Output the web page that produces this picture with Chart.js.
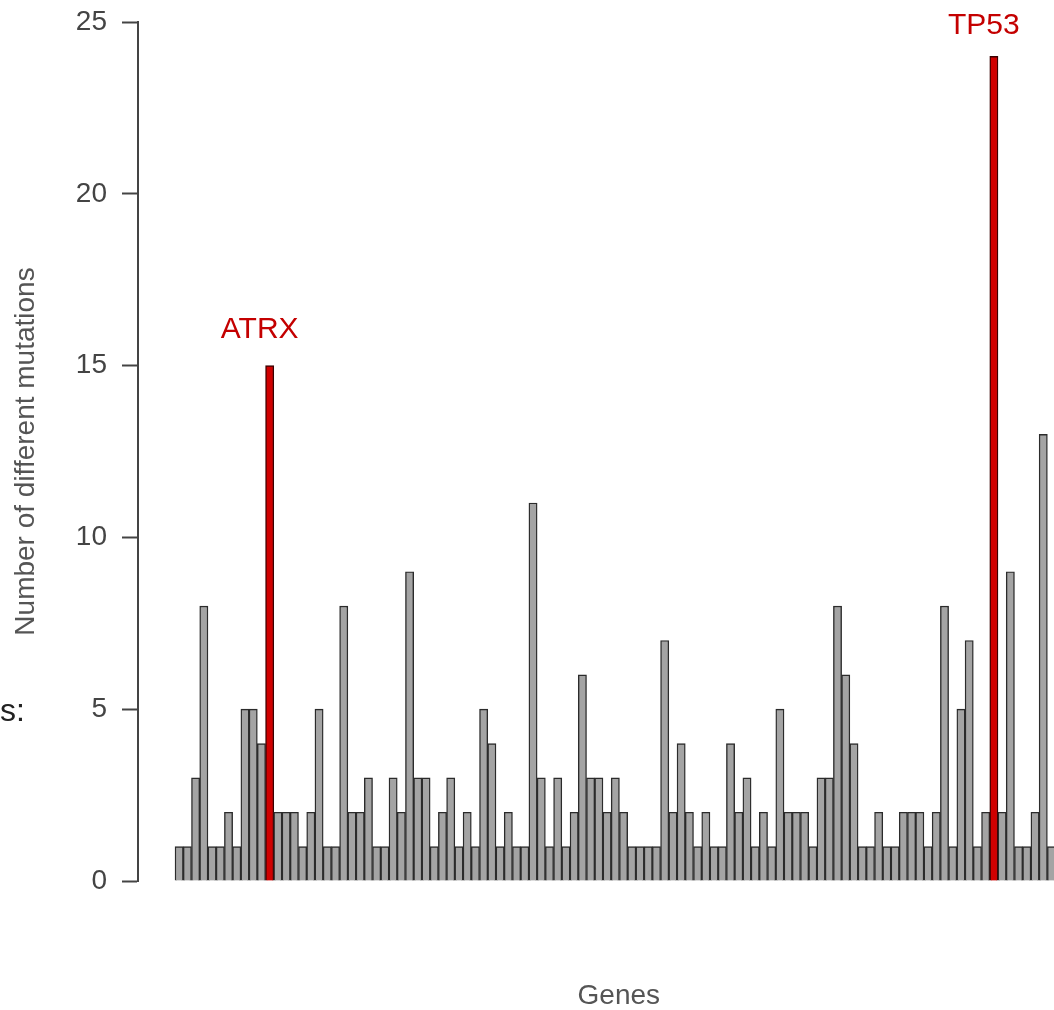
<!DOCTYPE html>
<html lang="en">
<head>
    <meta charset="UTF-8">
    <title>Number of different mutations per gene</title>
    <script src="https://cdn.jsdelivr.net/npm/chart.js"></script>
    <style>
        body { margin: 0; background: #fff; overflow: hidden; font-family: 'Liberation Sans', Arial, sans-serif; }
        #wrap { position: relative; width: 1060px; height: 1010px; }
        #side { position: absolute; left: 0; top: 692px; font-size: 32px; color: #222; }
    </style>
</head>
<body>
    <div id="wrap">
        <canvas id="mutations"></canvas>
        <div id="side">s:</div>
    </div>

    <script>
        // number of different mutations for each gene, left to right
        const counts = [
            1, 1, 3, 8, 1, 1, 2, 1, 5, 5, 4, 15, 2, 2, 2, 1, 2, 5, 1, 1,
            8, 2, 2, 3, 1, 1, 3, 2, 9, 3, 3, 1, 2, 3, 1, 2, 1, 5, 4, 1,
            2, 1, 1, 11, 3, 1, 3, 1, 2, 6, 3, 3, 2, 3, 2, 1, 1, 1, 1, 7,
            2, 4, 2, 1, 2, 1, 1, 4, 2, 3, 1, 2, 1, 5, 2, 2, 2, 1, 3, 3,
            8, 6, 4, 1, 1, 2, 1, 1, 2, 2, 2, 1, 2, 8, 1, 5, 7, 1, 2, 24,
            2, 9, 1, 1, 2, 13, 1
        ];
        const highlightNames = ['ATRX', 'TP53'];
        const highlightIndex = [11, 99];
        const yTicks = [0, 5, 10, 15, 20, 25];

        const font = "'Liberation Sans', Arial, sans-serif";

        const fills = counts.map((v, i) => highlightIndex.includes(i) ? '#d00000' : '#a4a4a4');
        const borders = counts.map((v, i) => highlightIndex.includes(i) ? '#3a0000' : '#2b2b2b');

        // red gene names above the highlighted bars, plus the x axis title
        // (the original plot runs on past the right edge, so "Genes" sits right of centre)
        const textPlugin = {
            id: 'geneNames',
            afterDatasetsDraw(chart) {
                const ctx = chart.ctx;
                const x = chart.scales.x, y = chart.scales.y;
                const area = chart.chartArea;
                ctx.save();
                ctx.font = '30px ' + font;
                ctx.fillStyle = '#c40000';
                ctx.textAlign = 'center';
                ctx.textBaseline = 'alphabetic';
                highlightNames.forEach((name, k) => {
                    const i = highlightIndex[k];
                    const top = y.getPixelForValue(counts[i]);
                    ctx.fillText(name, x.getPixelForValue(i) - 10, Math.max(top - 28, 34));
                });
                ctx.font = '28px ' + font;
                ctx.fillStyle = '#555';
                ctx.textBaseline = 'middle';
                ctx.fillText('Genes', (area.left + area.right) / 2 + 22, 996);
                ctx.restore();
            }
        };

        new Chart(document.getElementById('mutations'), {
            type: 'bar',
            data: {
                datasets: [{
                    data: counts.map((v, i) => ({ x: i, y: v })),
                    backgroundColor: fills,
                    borderColor: borders,
                    borderWidth: 1.4,
                    categoryPercentage: 1,
                    barPercentage: 1
                }]
            },
            options: {
                responsive: true,
                maintainAspectRatio: false,
                animation: false,
                layout: { padding: { top: 22, right: 4.4, bottom: 0, left: 0 } },
                plugins: { legend: { display: false }, tooltip: { enabled: false } },
                scales: {
                    x: {
                        type: 'linear',
                        offset: false,
                        bounds: 'data',
                        min: -5,
                        max: counts.length - 0.5,
                        grid: { display: false, offset: false },
                        border: { display: false },
                        ticks: { display: false },
                        afterFit(scale) { scale.height = 129; }
                    },
                    y: {
                        min: 0,
                        max: 25,
                        afterBuildTicks(scale) { scale.ticks = yTicks.map(v => ({ value: v })); },
                        grid: {
                            drawOnChartArea: false,
                            drawTicks: true,
                            tickLength: 16,
                            tickWidth: 2,
                            tickColor: '#444'
                        },
                        border: { display: true, color: '#444', width: 2 },
                        ticks: {
                            color: '#444',
                            padding: 15,
                            font: { family: font, size: 28 }
                        },
                        title: {
                            display: true,
                            text: 'Number of different mutations',
                            color: '#555',
                            font: { family: font, size: 28 },
                            padding: { top: 9, bottom: 0 }
                        },
                        afterFit(scale) {
                            scale.width = 138;
                            scale.paddingTop = 0;
                            scale.paddingBottom = 0;
                        }
                    }
                }
            },
            plugins: [textPlugin]
        });
    </script>
</body>
</html>
